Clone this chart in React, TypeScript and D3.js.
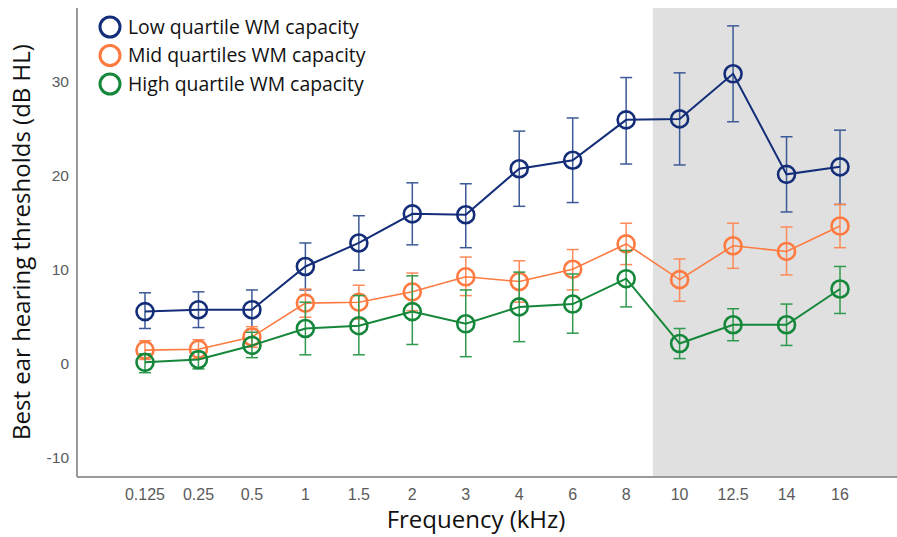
import React from 'react';
import * as d3 from 'd3';

const frequencies = ['0.125', '0.25', '0.5', '1', '1.5', '2', '3', '4', '6', '8', '10', '12.5', '14', '16'];
const yTicks = [-10, 0, 10, 20, 30];

// means and error bar ends (dB HL)
const lowMean = [5.5, 5.7, 5.7, 10.3, 12.8, 15.9, 15.8, 20.7, 21.6, 25.9, 26.0, 30.8, 20.1, 20.9];
const lowUpper = [7.5, 7.6, 7.8, 12.8, 15.7, 19.2, 19.1, 24.7, 26.1, 30.4, 30.9, 35.9, 24.1, 24.8];
const lowLower = [3.7, 3.8, 3.6, 7.8, 9.9, 12.6, 12.3, 16.7, 17.1, 21.2, 21.1, 25.7, 16.1, 16.9];

const midMean = [1.4, 1.5, 2.8, 6.4, 6.5, 7.6, 9.2, 8.7, 10.0, 12.7, 8.9, 12.5, 11.9, 14.6];
const midUpper = [2.4, 2.5, 3.9, 7.9, 8.3, 9.6, 11.3, 10.9, 12.1, 14.9, 11.1, 14.9, 14.5, 16.9];
const midLower = [0.4, 0.5, 1.7, 4.9, 4.7, 5.6, 7.2, 6.5, 7.8, 10.5, 6.6, 10.1, 9.4, 12.3];

const highMean = [0.1, 0.4, 1.9, 3.7, 4.0, 5.5, 4.2, 6.0, 6.3, 9.0, 2.1, 4.1, 4.1, 7.9];
const highUpper = [1.0, 1.2, 3.3, 6.5, 7.2, 9.3, 7.8, 9.7, 9.5, 12.0, 3.7, 5.8, 6.3, 10.3];
const highLower = [-1.0, -0.6, 0.6, 0.9, 0.9, 2.0, 0.7, 2.3, 3.2, 6.0, 0.5, 2.4, 1.9, 5.3];

const series = [
  { name: 'Low quartile WM capacity', color: '#132d78', bar: '#3d5a96', width: 2, mean: lowMean, upper: lowUpper, lower: lowLower },
  { name: 'Mid quartiles WM capacity', color: '#ff7a40', bar: '#ff8a5a', width: 1.6, mean: midMean, upper: midUpper, lower: midLower },
  { name: 'High quartile WM capacity', color: '#15873a', bar: '#2f9a4e', width: 2, mean: highMean, upper: highUpper, lower: highLower },
];

const W = 897, H = 537;
const left = 77, right = 897, top = 8, bottom = 477;

export default function App() {
  const x = d3.scalePoint<string>().domain(frequencies).range([145, 840]);
  const y = d3.scaleLinear().domain([-12.1, 37.8]).range([bottom, top]);
  const shadeX = (x('8')! + x('10')!) / 2;

  return (
    <svg width={W} height={H} style={{ position: 'absolute', left: 0, top: 0, background: '#fff' }}>
      <rect x={shadeX} y={top} width={right - shadeX} height={bottom - top} fill="#e0e0e0" />

      {series.map((s) => {
        const line = d3.line<number>()
          .x((_, i) => x(frequencies[i])!)
          .y((d) => y(d));
        return (
          <g key={s.name}>
            {s.mean.map((_, i) => {
              const cx = x(frequencies[i])!;
              return (
                <g key={i} stroke={s.bar} strokeWidth={1.5}>
                  <line x1={cx} x2={cx} y1={y(s.upper[i])} y2={y(s.lower[i])} />
                  <line x1={cx - 6} x2={cx + 6} y1={y(s.upper[i])} y2={y(s.upper[i])} />
                  <line x1={cx - 6} x2={cx + 6} y1={y(s.lower[i])} y2={y(s.lower[i])} />
                </g>
              );
            })}
            <path d={line(s.mean)!} fill="none" stroke={s.color} strokeWidth={s.width} />
            {s.mean.map((v, i) => (
              <circle key={i} cx={x(frequencies[i])!} cy={y(v)} r={8.5} fill="none" stroke={s.color} strokeWidth={2.6} />
            ))}
          </g>
        );
      })}

      <line x1={left} x2={left} y1={top} y2={bottom} stroke="#9a9a9a" strokeWidth={2} />
      <line x1={left} x2={right} y1={bottom} y2={bottom} stroke="#9a9a9a" strokeWidth={2} />

      {yTicks.map((t) => (
        <text key={t} x={69} y={y(t)} dy="0.35em" textAnchor="end" fontFamily="Liberation Sans, Arial, sans-serif" fontSize={15.5} fill="#5a5a5a">{t}</text>
      ))}
      {frequencies.map((f) => (
        <text key={f} x={x(f)!} y={494} dy="0.35em" textAnchor="middle" fontFamily="Liberation Sans, Arial, sans-serif" fontSize={16} fill="#5a5a5a">{f}</text>
      ))}

      <text x={476} y={520} dy="0.35em" textAnchor="middle" fontFamily="Open Sans, sans-serif" fontSize={24} fill="#111">Frequency (kHz)</text>
      <text transform={`translate(22,242) rotate(-90)`} dy="0.35em" textAnchor="middle" fontFamily="Open Sans, sans-serif" fontSize={24} fill="#111">Best ear hearing thresholds (dB HL)</text>

      {series.map((s, i) => (
        <g key={s.name} transform={`translate(110,${27 + i * 28.5})`}>
          <circle r={10} fill="none" stroke={s.color} strokeWidth={3} />
          <text x={18} dy="0.35em" fontFamily="Open Sans, sans-serif" fontSize={19.4} fill="#111">{s.name}</text>
        </g>
      ))}
    </svg>
  );
}
